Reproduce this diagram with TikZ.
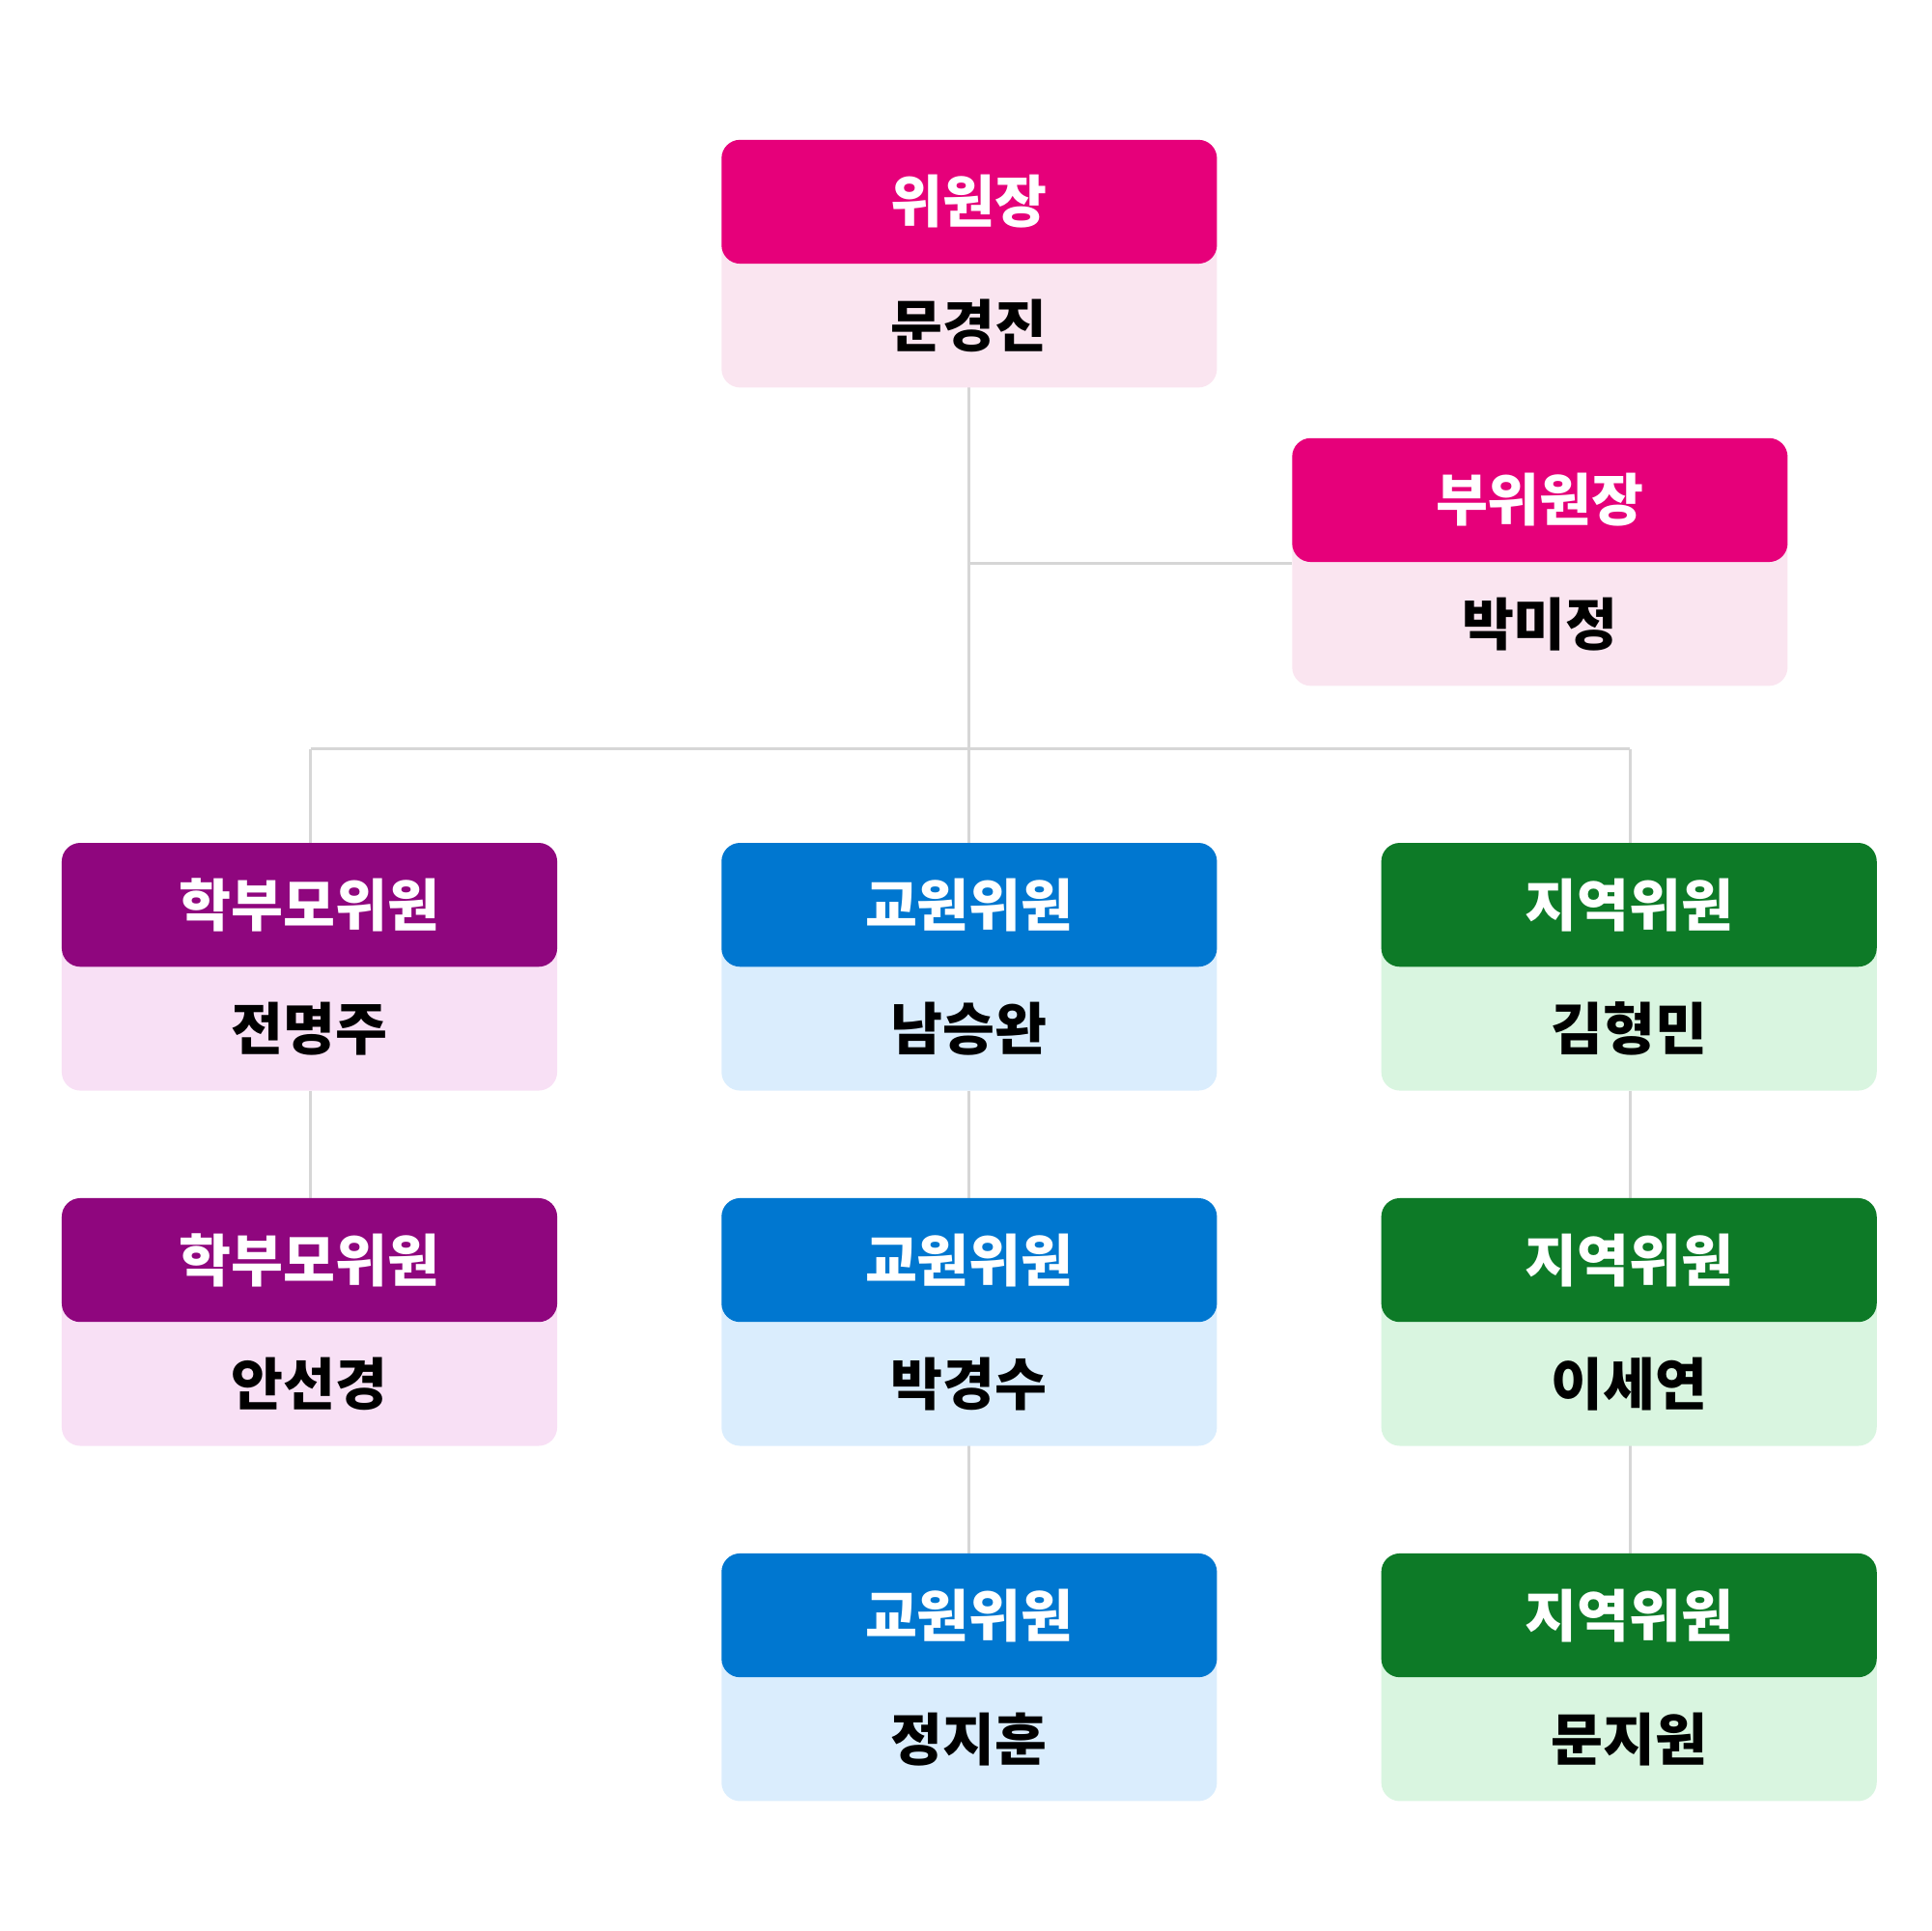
\documentclass[tikz,border=0pt]{standalone}
\usepackage{fontspec}
\newfontfamily\kr{Noto Sans CJK KR}
\begin{document}
\definecolor{mag}{HTML}{E6007A}\definecolor{magl}{HTML}{FAE5F0}
\definecolor{pur}{HTML}{8F067E}\definecolor{purl}{HTML}{F8E0F5}
\definecolor{blu}{HTML}{0077D0}\definecolor{blul}{HTML}{DAEDFD}
\definecolor{grn}{HTML}{0D7A27}\definecolor{grnl}{HTML}{D9F5E0}
\definecolor{ln}{HTML}{D6D6D6}
\newcommand{\obox}[7]{%
 \node[body,fill=#5] (#1) at (#2,#3) {};
 \node[head,fill=#4,anchor=north] (#1h) at (#1.north) {#6};
 \node[font=\kr\fontsize{13}{13}\selectfont\bfseries,text=black] (#1n) at ([yshift=-0.5cm]#1.center) {#7};}
\begin{tikzpicture}[x=0.01cm,y=-0.01cm,
 body/.style={rounded corners=0.15cm,minimum width=4cm,minimum height=2cm,inner sep=0,draw=none},
 head/.style={rounded corners=0.15cm,minimum width=4cm,minimum height=1cm,inner sep=0,text=white,font=\kr\fontsize{13}{13}\selectfont\bfseries},
 con/.style={draw=ln,line width=0.7pt}]
\useasboundingbox (0,0) rectangle (1560,1560);
\coordinate (j1) at (783,455);
\coordinate (j2) at (783,605);
\coordinate (jl) at (251,605);
\coordinate (jr) at (1317,605);
\draw[con] (783,313) -- (j2);
\draw[con] (j1) -- (1044,455);
\draw[con] (jl) -- (jr);
\draw[con] (jl) -- (251,681);
\draw[con] (j2) -- (783,681);
\draw[con] (jr) -- (1317,681);
\foreach \x in {251,783,1317}{\draw[con] (\x,881)--(\x,968);}
\foreach \x in {783,1317}{\draw[con] (\x,1168)--(\x,1255);}
\obox{chair}{783}{213}{mag}{magl}{위원장}{문경진}
\obox{vice}{1244}{454}{mag}{magl}{부위원장}{박미정}
\obox{p1}{250}{781}{pur}{purl}{학부모위원}{전명주}
\obox{p2}{250}{1068}{pur}{purl}{학부모위원}{안선경}
\obox{t1}{783}{781}{blu}{blul}{교원위원}{남승완}
\obox{t2}{783}{1068}{blu}{blul}{교원위원}{박경수}
\obox{t3}{783}{1355}{blu}{blul}{교원위원}{정지훈}
\obox{r1}{1316}{781}{grn}{grnl}{지역위원}{김형민}
\obox{r2}{1316}{1068}{grn}{grnl}{지역위원}{이세연}
\obox{r3}{1316}{1355}{grn}{grnl}{지역위원}{문지원}
\end{tikzpicture}
\end{document}
